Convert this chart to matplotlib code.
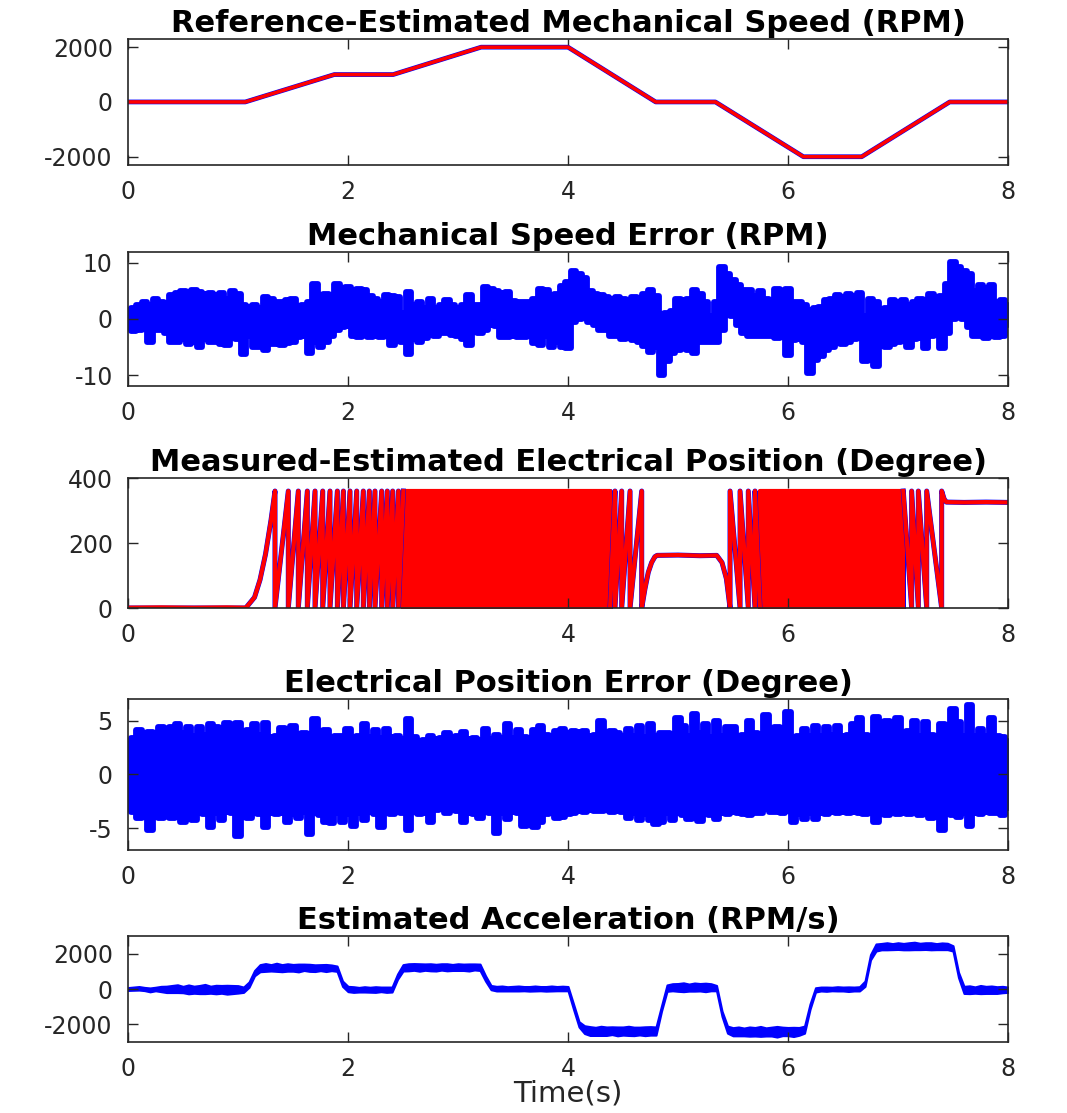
import numpy as np
import matplotlib.pyplot as plt

plt.rcParams['axes.unicode_minus'] = False

# ---- panel 1: speed profile breakpoints (RPM)
speed_t = [0, 1.066, 1.875, 2.41, 3.21, 4.0, 4.797, 5.34, 6.14, 6.67, 7.47, 8.0]
speed_ref = [0, 0, 1000, 1000, 2000, 2000, 0, 0, -2000, -2000, 0, 0]
speed_est = [0, 0, 1000, 1000, 2000, 2000, 0, 0, -2000, -2000, 0, 0]

# noisy traces are read every 0.05 s
t_noise = np.linspace(0, 8, 161)

# ---- panel 2: speed error envelope (RPM)
err_hi = [1.6, 2.0, 2.5, 3.0, 2.5, 3.6, 3.0, 2.5, 4.2, 4.6, 4.9, 3.5, 5.1, 4.8, 4.5, 4.6, 4.3, 4.6, 3.5, 4.9,
          4.5, 2.5, 2.2, 2.5, 2.0, 3.9, 3.5, 3.0, 3.0, 3.3, 3.6, 2.0, 2.5, 3.0, 6.2, 3.5, 4.5, 4.0, 6.3, 5.5,
          5.7, 5.0, 5.4, 5.1, 4.0, 3.6, 3.0, 4.2, 4.0, 3.9, 1.0, 4.8, 2.5, 3.0, 2.0, 3.6, 2.0, 2.5, 3.3, 2.5,
          2.0, 2.5, 4.2, 2.5, 2.5, 5.7, 5.4, 5.0, 4.6, 4.8, 3.2, 3.0, 3.0, 3.0, 3.6, 5.4, 5.1, 3.6, 4.5, 5.9,
          6.6, 8.6, 8.0, 7.2, 5.0, 4.5, 4.2, 3.9, 3.5, 3.9, 3.6, 3.0, 3.9, 3.6, 4.5, 5.1, 4.0, 0.0, 1.0, 1.5,
          3.6, 3.4, 3.6, 5.1, 4.5, 3.0, 0.5, 3.0, 9.2, 8.0, 7.0, 6.0, 5.1, 5.1, 4.0, 5.0, 3.5, 3.0, 5.4, 5.0,
          5.4, 3.0, 3.0, 2.5, 1.6, 2.0, 2.2, 3.4, 3.6, 4.2, 3.9, 4.5, 4.0, 4.6, 0.5, 3.6, 3.0, 1.5, 2.0, 3.4,
          3.0, 3.4, 2.5, 3.0, 3.5, 3.4, 4.5, 3.0, 4.0, 6.3, 10.1, 9.2, 8.5, 8.0, 5.0, 6.0, 5.5, 6.0, 3.0, 3.3,
          2.5]
err_lo = [-1.5, -2.2, -2.0, -1.5, -4.0, -2.0, -2.0, -2.5, -4.0, -4.0, -3.5, -4.5, -4.0, -4.9, -3.5, -4.0, -4.0, -4.4, -4.6, -3.0,
          -3.5, -6.2, -3.0, -5.0, -5.0, -5.5, -4.5, -4.5, -4.6, -4.2, -4.0, -3.2, -3.0, -6.0, -4.0, -4.9, -4.0, -3.0, -2.0, -1.5,
          -1.3, -3.0, -3.2, -2.5, -3.2, -3.0, -3.2, -3.0, -4.6, -3.5, -4.0, -6.2, -3.5, -4.0, -3.3, -2.5, -3.0, -2.5, -2.5, -2.8,
          -3.0, -3.5, -4.6, -2.0, -2.5, -2.0, -1.0, -1.3, -3.2, -3.2, -3.0, -3.2, -3.2, -2.5, -4.3, -4.6, -3.0, -4.9, -4.0, -4.9,
          -5.1, -0.5, 0.0, 0.5, -0.5, -1.0, -1.9, -2.0, -3.0, -3.1, -3.5, -3.2, -3.8, -4.0, -4.8, -5.8, -5.0, -9.9, -7.5, -6.0,
          -5.5, -5.0, -5.5, -6.0, -4.0, -4.0, -4.0, -4.0, -2.0, 1.5, 0.5, -1.0, -2.5, -3.1, -3.0, -3.1, -3.1, -3.0, -3.3, -3.1,
          -6.4, -3.8, -3.5, -4.0, -9.6, -7.2, -6.5, -5.5, -5.0, -4.3, -4.5, -4.0, -3.5, -3.2, -7.5, -6.0, -8.4, -4.0, -5.0, -4.5,
          -4.0, -3.5, -5.0, -3.5, -3.3, -5.2, -3.0, -2.8, -5.2, -2.5, 0.0, 1.0, 0.0, -1.5, -3.0, -3.1, -3.3, -3.0, -3.2, -3.1,
          -1.0]

# ---- panel 3: electrical position (degree), wrap instants
pos_idle_t = [0, 0.3, 0.6, 0.9, 1.07]
pos_idle_meas = [0, 0, 0, 0, 0]
pos_idle_est = [1, 2, 1, 2, 1]
pos_first_t = [1.07, 1.15, 1.20, 1.25, 1.30, 1.336]
pos_first_deg = [0, 33, 87, 166, 271, 360]
wraps_up1 = [1.336, 1.457, 1.548, 1.630, 1.700, 1.770, 1.836, 1.903, 1.958, 2.018,
             2.079, 2.139, 2.194, 2.245, 2.306, 2.357, 2.406, 2.458, 2.503]
dense1 = [2.503, 4.382]
wraps_up2 = [4.382, 4.427, 4.488, 4.564, 4.670]
hold1_t = [4.670, 4.70, 4.73, 4.76, 4.79, 4.81, 5.0, 5.2, 5.352, 5.40, 5.44, 5.473]
hold1_deg = [0, 60, 110, 140, 158, 162, 163, 161, 162, 140, 90, 0]
wraps_dn1 = [5.473, 5.564, 5.639, 5.700, 5.745]
dense2 = [5.745, 7.048]
wraps_dn2 = [7.048, 7.124, 7.185, 7.261, 7.397]
hold2_t = [7.397, 7.42, 7.44, 7.6, 7.8, 8.0]
hold2_deg = [360, 335, 326, 325, 326, 325]

# ---- panel 4: electrical position error envelope (degree)
pe_hi = [2.8, 3.4, 4.1, 3.5, 3.9, 3.5, 4.4, 3.6, 4.4, 4.7, 3.8, 4.4, 3.6, 4.4, 3.7, 4.7, 4.4, 3.6, 4.8, 3.7,
         4.8, 3.6, 4.1, 4.7, 3.7, 4.8, 3.5, 3.6, 4.3, 3.4, 4.5, 3.6, 3.8, 3.5, 5.1, 3.6, 4.1, 3.5, 3.6, 3.6,
         4.2, 3.4, 3.6, 4.7, 3.5, 4.1, 3.4, 4.2, 3.5, 3.6, 3.3, 5.1, 3.5, 3.0, 3.2, 3.6, 3.3, 3.4, 3.8, 3.2,
         3.6, 3.9, 3.3, 3.4, 3.2, 4.2, 3.3, 3.7, 3.4, 4.7, 3.4, 4.1, 3.5, 3.3, 4.1, 4.5, 3.7, 3.6, 4.0, 4.2,
         3.8, 4.0, 3.9, 4.0, 3.6, 3.7, 5.0, 3.6, 4.0, 3.8, 3.6, 4.2, 3.6, 4.5, 3.5, 4.7, 3.6, 3.8, 3.8, 3.6,
         5.2, 4.5, 3.6, 5.6, 3.8, 4.7, 3.5, 5.0, 3.6, 4.4, 4.4, 3.6, 3.7, 5.0, 3.8, 3.6, 5.5, 3.6, 4.4, 3.8,
         5.8, 3.4, 3.6, 4.2, 3.6, 4.5, 3.6, 4.4, 3.7, 4.5, 3.6, 3.7, 4.7, 5.2, 3.7, 3.6, 5.3, 3.8, 5.0, 3.6,
         5.2, 3.6, 4.0, 5.0, 3.6, 4.9, 3.7, 3.6, 4.7, 3.8, 6.1, 4.9, 3.6, 6.4, 3.6, 4.2, 3.6, 5.2, 3.6, 3.5,
         3.1]
pe_lo = [-3.0, -3.5, -4.0, -3.6, -5.1, -3.7, -4.0, -3.5, -4.0, -3.8, -4.4, -3.6, -4.2, -3.5, -3.7, -4.9, -3.6, -4.2, -3.5, -3.6,
         -5.7, -3.5, -4.0, -3.6, -3.7, -4.9, -3.6, -3.7, -3.6, -4.4, -3.7, -4.0, -3.5, -5.5, -3.6, -3.8, -4.4, -4.5, -3.6, -4.4,
         -3.7, -4.8, -3.6, -4.2, -3.5, -3.7, -4.9, -3.6, -3.7, -3.5, -3.6, -5.1, -3.5, -3.7, -3.6, -4.4, -3.3, -3.2, -3.6, -3.3,
         -3.4, -4.4, -3.6, -3.7, -4.0, -3.5, -3.6, -5.4, -3.6, -4.1, -3.5, -3.6, -4.8, -3.6, -4.9, -4.4, -3.7, -3.6, -4.0, -3.9,
         -3.7, -3.6, -3.4, -3.5, -3.3, -3.4, -3.4, -3.3, -3.5, -3.4, -3.5, -4.0, -3.6, -4.2, -3.7, -4.2, -4.6, -4.4, -3.6, -4.2,
         -3.6, -3.8, -4.1, -3.6, -4.3, -3.6, -3.8, -4.1, -3.6, -3.7, -3.5, -3.6, -3.7, -3.8, -3.6, -3.6, -3.2, -3.5, -3.5, -3.6,
         -3.4, -4.4, -3.7, -4.1, -3.6, -4.1, -3.6, -3.7, -3.5, -3.6, -3.5, -3.6, -3.5, -3.6, -3.7, -3.6, -4.4, -3.6, -3.8, -3.6,
         -3.7, -3.6, -3.7, -3.6, -3.8, -3.6, -4.0, -3.6, -5.1, -3.6, -3.8, -3.9, -3.6, -4.8, -3.6, -3.7, -3.5, -3.6, -3.6, -3.8,
         -3.1]

# ---- panel 5: estimated acceleration (RPM/s), level and noise half-width
acc_level = [0, 20, 40, 0, -50, 0, 0, -20, 0, 20, -30, -20, -40, -30, 0, -40, -30, -20, -40, -30,
             -20, -40, 250, 900, 1180, 1220, 1200, 1230, 1180, 1220, 1200, 1190, 1230, 1200, 1180, 1210, 1190, 1200, 1150, 300,
             0, -30, -40, -20, -40, -30, -20, -40, -30, 700, 1200, 1230, 1250, 1220, 1240, 1230, 1210, 1250, 1230, 1220,
             1240, 1230, 1220, 1250, 1230, 600, 80, 20, 30, 10, 20, 30, 20, 10, 30, 20, 10, 30, 20, 30,
             20, -1000, -2000, -2300, -2380, -2400, -2370, -2390, -2360, -2400, -2380, -2370, -2400, -2380, -2390, -2370, -2380, -1100, 50, 100,
             90, 100, 80, 110, 100, 90, 100, 50, -1400, -2300, -2420, -2400, -2430, -2410, -2420, -2400, -2430, -2410, -2420, -2400,
             -2410, -2430, -2400, -2300, -1000, -50, 0, -10, 0, 10, 0, -10, 0, 10, 300, 1800, 2350, 2400, 2420, 2400,
             2430, 2400, 2420, 2440, 2410, 2430, 2420, 2400, 2420, 2410, 2300, 800, -50, -40, -60, -30, -50, -40, -60, -30,
             -40]
acc_noise = [80, 90, 100, 90, 110, 100, 150, 180, 200, 220, 180, 250, 200, 230, 260, 200, 240, 220, 250, 230,
             210, 150, 150, 150, 200, 220, 180, 230, 200, 210, 190, 220, 180, 200, 190, 170, 200, 160, 150, 150,
             150, 160, 130, 150, 140, 160, 130, 150, 140, 150, 180, 200, 190, 210, 180, 200, 190, 180, 200, 170,
             190, 180, 200, 170, 180, 150, 120, 130, 140, 120, 130, 140, 120, 130, 140, 120, 130, 140, 120, 130,
             120, 150, 150, 220, 250, 230, 260, 240, 220, 250, 230, 260, 240, 220, 250, 240, 230, 150, 180, 200,
             220, 250, 200, 230, 210, 240, 200, 150, 150, 200, 230, 250, 220, 260, 240, 280, 230, 250, 300, 240,
             230, 260, 220, 200, 150, 120, 110, 120, 100, 120, 110, 130, 110, 120, 150, 150, 200, 180, 200, 170,
             190, 180, 200, 210, 180, 190, 200, 170, 190, 180, 150, 150, 200, 220, 180, 230, 200, 210, 190, 180,
             150]

BLUE = (0, 0, 1)
RED = (1, 0, 0)
DARK = '#262626'
X_TICKS = [0, 2, 4, 6, 8]


def saw(wraps, rising):
    lo, hi = (0, 360) if rising else (360, 0)
    xs, ys = [], []
    for a, b in zip(wraps[:-1], wraps[1:]):
        xs += [a, b]
        ys += [lo, hi]
    return xs, ys


def position_path(idle_deg):
    # three visible stretches, split where the trace is too dense to resolve
    xs = list(pos_idle_t) + list(pos_first_t)
    ys = list(idle_deg) + list(pos_first_deg)
    sx, sy = saw(wraps_up1, True)
    xs += sx + [np.nan]
    ys += sy + [np.nan]
    sx, sy = saw(wraps_up2, True)
    xs += sx + hold1_t
    ys += sy + hold1_deg
    sx, sy = saw(wraps_dn1, False)
    xs += sx + [np.nan]
    ys += sy + [np.nan]
    sx, sy = saw(wraps_dn2, False)
    xs += sx + hold2_t
    ys += sy + hold2_deg
    return xs, ys


def style(ax, ylim, yticks, title):
    ax.set_xlim(0, 8)
    ax.set_ylim(*ylim)
    ax.set_xticks(X_TICKS)
    ax.set_yticks(yticks)
    ax.tick_params(direction='in', length=7, width=1, top=True, right=True,
                   labelsize=17, pad=11, colors=DARK)
    for s in ax.spines.values():
        s.set_color(DARK)
        s.set_linewidth(1.2)
    ax.set_title(title, fontsize=22, fontweight='bold', pad=5)


def noisy(ax, lo, hi):
    ax.fill_between(t_noise, lo, hi, step='mid', color=BLUE, lw=4.2, joinstyle='round')


fig = plt.figure(figsize=(10.67, 11.13), dpi=100)
left, width = 0.12, 0.8247
ax1 = fig.add_axes([left, 0.8518, width, 0.1132])
ax2 = fig.add_axes([left, 0.6532, width, 0.1204])
ax3 = fig.add_axes([left, 0.4537, width, 0.1168])
ax4 = fig.add_axes([left, 0.2363, width, 0.1357])
ax5 = fig.add_axes([left, 0.0638, width, 0.0952])

# speed
ax1.plot(speed_t, speed_ref, color=BLUE, lw=3.4)
ax1.plot(speed_t, speed_est, color=RED, lw=2.6)
style(ax1, (-2300, 2300), [-2000, 0, 2000], 'Reference-Estimated Mechanical Speed (RPM)')

# speed error
noisy(ax2, err_lo, err_hi)
style(ax2, (-11.9, 11.9), [-10, 0, 10], 'Mechanical Speed Error (RPM)')

# electrical position
mx, my = position_path(pos_idle_meas)
ex, ey = position_path(pos_idle_est)
ax3.plot(mx, my, color=BLUE, lw=3.6)
for d in (dense1, dense2):
    ax3.fill_between(d, 0, 360, color=BLUE, lw=3.6)
ax3.plot(ex, ey, color=RED, lw=3.0)
for d in (dense1, dense2):
    ax3.fill_between(d, 0, 360, color=RED, lw=3.0)
style(ax3, (0, 400), [0, 200, 400], 'Measured-Estimated Electrical Position (Degree)')

# position error
noisy(ax4, pe_lo, pe_hi)
style(ax4, (-7, 7), [-5, 0, 5], 'Electrical Position Error (Degree)')

# acceleration
acc_hi = np.array(acc_level) + np.array(acc_noise)
acc_lo = np.array(acc_level) - np.array(acc_noise)
ax5.fill_between(t_noise, acc_lo, acc_hi, color=BLUE, lw=1.5)
style(ax5, (-3000, 3000), [-2000, 0, 2000], 'Estimated Acceleration (RPM/s)')
ax5.set_xlabel('Time(s)', fontsize=21, color=DARK, labelpad=-1)

fig.savefig('out.png', dpi=100)
